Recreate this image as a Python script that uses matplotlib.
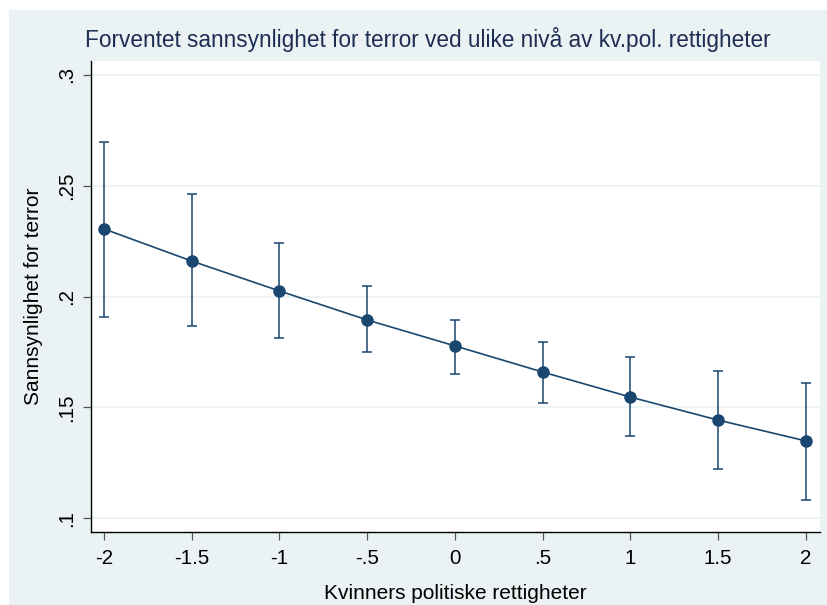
import matplotlib.pyplot as plt
from matplotlib.patches import Rectangle

# predicted probabilities with 95% CI
x_vals = [-2, -1.5, -1, -0.5, 0, 0.5, 1, 1.5, 2]
margins = [0.2305, 0.2160, 0.2025, 0.1894, 0.1777, 0.1659, 0.1546, 0.1442, 0.1348]
ci_low = [0.1907, 0.1867, 0.1813, 0.1750, 0.1650, 0.1520, 0.1370, 0.1221, 0.1081]
ci_high = [0.2698, 0.2463, 0.2242, 0.2047, 0.1894, 0.1795, 0.1727, 0.1664, 0.1610]

x_ticks = [-2, -1.5, -1, -0.5, 0, 0.5, 1, 1.5, 2]
x_labels = ['-2', '-1.5', '-1', '-.5', '0', '.5', '1', '1.5', '2']
y_ticks = [0.1, 0.15, 0.2, 0.25, 0.3]
y_labels = ['.1', '.15', '.2', '.25', '.3']

NAVY = '#1a476f'
BG = '#eaf2f3'
W, H = 828, 605

plt.rcParams['font.family'] = ['Liberation Sans', 'DejaVu Sans']

fig = plt.figure(figsize=(W / 100, H / 100), dpi=100)
fig.patch.set_facecolor('white')
fig.patches.append(Rectangle((9 / W, 0), (827 - 9) / W, (H - 10) / H,
                             transform=fig.transFigure, facecolor=BG,
                             edgecolor='none', zorder=-10))

ax = fig.add_axes([91 / W, (H - 532) / H, (820 - 91) / W, (532 - 61) / H])
ax.set_zorder(1)
ax.set_facecolor('white')

yerr = [[m - lo for m, lo in zip(margins, ci_low)],
        [hi - m for m, hi in zip(margins, ci_high)]]
ax.errorbar(x_vals, margins, yerr=yerr, fmt='none', ecolor=NAVY,
            elinewidth=1.1, capsize=3.8, capthick=1.1, zorder=3)
ax.plot(x_vals, margins, color=NAVY, lw=1.2, marker='o', markersize=8,
        markerfacecolor=NAVY, markeredgecolor=NAVY, zorder=4)

ax.set_xlim(-2.074, 2.080)
ax.set_ylim(0.0937, 0.3063)
ax.set_xticks(x_ticks)
ax.set_xticklabels(x_labels)
ax.set_yticks(y_ticks)
ax.set_yticklabels(y_labels, rotation=90, va='center')
ax.yaxis.grid(True, color=BG, lw=1.2)
ax.set_axisbelow(True)

for s in ['top', 'right']:
    ax.spines[s].set_visible(False)
for s in ['left', 'bottom']:
    ax.spines[s].set_color('black')
    ax.spines[s].set_linewidth(1.0)

ax.tick_params(axis='both', direction='out', length=6, width=0.9,
               color='#555555', labelsize=14.8, labelcolor='black')
ax.tick_params(axis='x', pad=6)
ax.tick_params(axis='y', pad=5)

ax.set_xlabel('Kvinners politiske rettigheter', fontsize=15, labelpad=12)
ax.set_ylabel('Sannsynlighet for terror', fontsize=15, labelpad=10)

fig.text(428 / W, 1 - 40 / H,
         'Forventet sannsynlighet for terror ved ulike nivå av kv.pol. rettigheter',
         ha='center', va='center', fontsize=16.3, color='#1e2d53')

fig.savefig('out.png', dpi=100)
